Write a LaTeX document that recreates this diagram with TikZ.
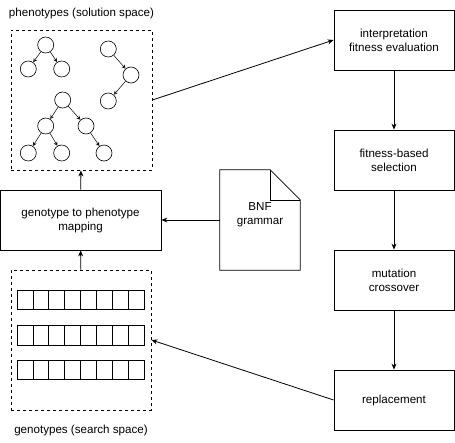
\documentclass[tikz,border=0pt]{standalone}
\usepackage{fontspec}
\setmainfont{Liberation Sans}
\usetikzlibrary{arrows.meta}
\begin{document}
\begin{tikzpicture}[x=1pt,y=-1pt,
  every node/.style={font=\fontsize{11.6}{14}\selectfont},
  box/.style={draw,line width=0.8pt,minimum width=120pt,minimum height=60pt,align=center,inner sep=0pt},
  space/.style={draw,dashed,line width=0.8pt,inner sep=0pt},
  tn/.style={draw,circle,line width=0.6pt,minimum size=16pt,inner sep=0pt},
  cell/.style={draw,line width=0.7pt,minimum width=15.9pt,minimum height=19.5pt,inner sep=0pt},
  flow/.style={line width=0.8pt,-{Stealth[length=6pt,width=5pt]}},
  tedge/.style={line width=0.5pt,-{Stealth[length=4pt,width=4pt,open]}}]
\useasboundingbox (0,0) rectangle (455,442);
% labels
\node (plab) at (81.5,13) {phenotypes (solution space)};
\node (glab) at (81,430) {genotypes (search space)};
% spaces
\node[space,minimum width=141pt,minimum height=140pt] (phen) at (81.5,100) {};
\node[space,minimum width=140pt,minimum height=140pt] (geno) at (81,340) {};
% trees
\node[tn] (a) at (45.7,45) {};
\node[tn] (a1) at (28.3,69) {};
\node[tn] (a2) at (61.7,69) {};
\draw[tedge] (a) -- (a1);
\draw[tedge] (a) -- (a2);
\node[tn] (b) at (108.3,49) {};
\node[tn] (b1) at (131,75) {};
\node[tn] (b2) at (108.3,101) {};
\draw[tedge] (b) -- (b1);
\draw[tedge] (b1) -- (b2);
\node[tn] (c) at (62.7,100) {};
\node[tn] (c1) at (45.7,126) {};
\node[tn] (c2) at (86,126) {};
\node[tn] (c11) at (28.3,153) {};
\node[tn] (c12) at (61.7,153) {};
\node[tn] (c21) at (104,153) {};
\draw[tedge] (c) -- (c1);
\draw[tedge] (c) -- (c2);
\draw[tedge] (c1) -- (c11);
\draw[tedge] (c1) -- (c12);
\draw[tedge] (c2) -- (c21);
% genotype rows
\foreach \r/\yy in {1/300,2/335.5,3/370}{
  \foreach \i in {0,...,7}{
    \node[cell] (g\r-\i) at ({17+7.95+15.9*\i},\yy) {};
  }
}
% boxes
\node[box,minimum width=161pt] (map) at (80.5,220) {genotype to phenotype\\mapping};
\node[box] (interp) at (394,40) {interpretation\\fitness evaluation};
\node[box] (sel) at (394,160) {fitness-based\\selection};
\node[box] (mut) at (394,280) {mutation\\crossover};
\node[box] (repl) at (394,400) {replacement};
% BNF document
\node[minimum width=80pt,minimum height=100pt,inner sep=0pt] (bnf) at (260,220) {};
\node[align=center] (bnftxt) at (260,215) {BNF\\grammar};
\draw[line width=0.8pt] (bnf.south west) -- (bnf.north west) -- ([xshift=-30pt]bnf.north east) -- ([yshift=-30pt]bnf.north east) -- (bnf.south east) -- cycle;
\draw[line width=0.6pt] ([xshift=-30pt]bnf.north east) -- ++(0,30) -- ([yshift=-30pt]bnf.north east);
% connectors
\draw[flow] (interp) -- (sel);
\draw[flow] (sel) -- (mut);
\draw[flow] (mut) -- (repl);
\draw[flow] (repl.west) -- (geno.east);
\draw[flow] (geno) -- (map);
\draw[flow] (map) -- (phen);
\draw[flow] (bnf.west) -- (map.east);
\draw[flow] (phen.east) -- (interp.west);
\end{tikzpicture}
\end{document}
